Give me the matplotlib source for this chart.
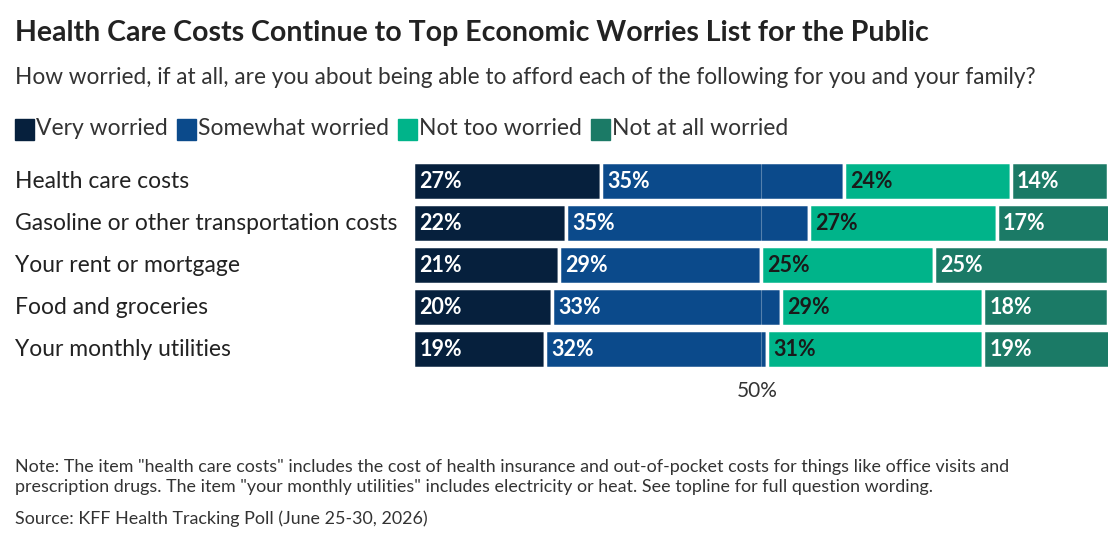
import matplotlib
matplotlib.use("Agg")
import matplotlib.pyplot as plt

categories = ["Health care costs", "Gasoline or other transportation costs",
              "Your rent or mortgage", "Food and groceries", "Your monthly utilities"]
series = ["Very worried", "Somewhat worried", "Not too worried", "Not at all worried"]
values = [
    [27, 22, 21, 20, 19],
    [35, 35, 29, 33, 32],
    [24, 27, 25, 29, 31],
    [14, 17, 25, 18, 19],
]
colors = ["#06203d", "#0b4a8b", "#00b48a", "#1b7a66"]
text_colors = ["white", "white", "#1a1a1a", "white"]

plt.rcParams['font.family'] = ['Lato', 'DejaVu Sans']
fig = plt.figure(figsize=(11.2, 5.44), dpi=100)
ax = fig.add_axes([413/1120, 1-370/544, 695/1120, 210/544])
n = len(categories)
ys = list(range(n))
left = [0]*n
for s, vals in enumerate(values):
    ax.barh(ys, vals, left=left, color=colors[s], height=0.9, edgecolor="white", linewidth=2.5)
    for i, v in enumerate(vals):
        ax.text(left[i]+0.9, ys[i], f"{v}%", color=text_colors[s], fontsize=15.5,
                fontweight="bold", va="center", ha="left")
    left = [l+v for l, v in zip(left, vals)]
ax.axvline(50, color="white", lw=0.8, alpha=0.3, zorder=3)
ax.set_xlim(0, 100)
ax.set_ylim(n-0.5, -0.5)
ax.axis("off")
for i, c in enumerate(categories):
    fig.text(15/1120, 1-(181+i*42.2)/544, c, fontsize=16.5, va="center", ha="left", color="#222")
fig.text(757/1120, 1-391/544, "50%", fontsize=15, ha="center", va="center", color="#333")

fig.text(15/1120, 1-33/544, "Health Care Costs Continue to Top Economic Worries List for the Public",
         fontsize=20.5, fontweight="bold", va="center", color="#222")
fig.text(15/1120, 1-78/544, "How worried, if at all, are you about being able to afford each of the following for you and your family?",
         fontsize=16.3, va="center", color="#333")
x = 15
for s, name in enumerate(series):
    fig.patches.append(plt.Rectangle((x/1120, 1-140/544), 19/1120, 21/544, color=colors[s],
                                     transform=fig.transFigure, figure=fig))
    t = fig.text((x+21)/1120, 1-129/544, name, fontsize=16.5, va="center", color="#333")
    fig.canvas.draw()
    bb = t.get_window_extent()
    x = bb.x1 + 9
fig.text(15/1120, 1-477/544, 'Note: The item "health care costs" includes the cost of health insurance and out-of-pocket costs for things like office visits and\nprescription drugs. The item "your monthly utilities" includes electricity or heat. See topline for full question wording.',
         fontsize=12.9, va="center", color="#333", linespacing=1.35)
fig.text(15/1120, 1-519/544, "Source: KFF Health Tracking Poll (June 25-30, 2026)", fontsize=12.9, va="center", color="#333")
fig.savefig("out.png", dpi=100)
